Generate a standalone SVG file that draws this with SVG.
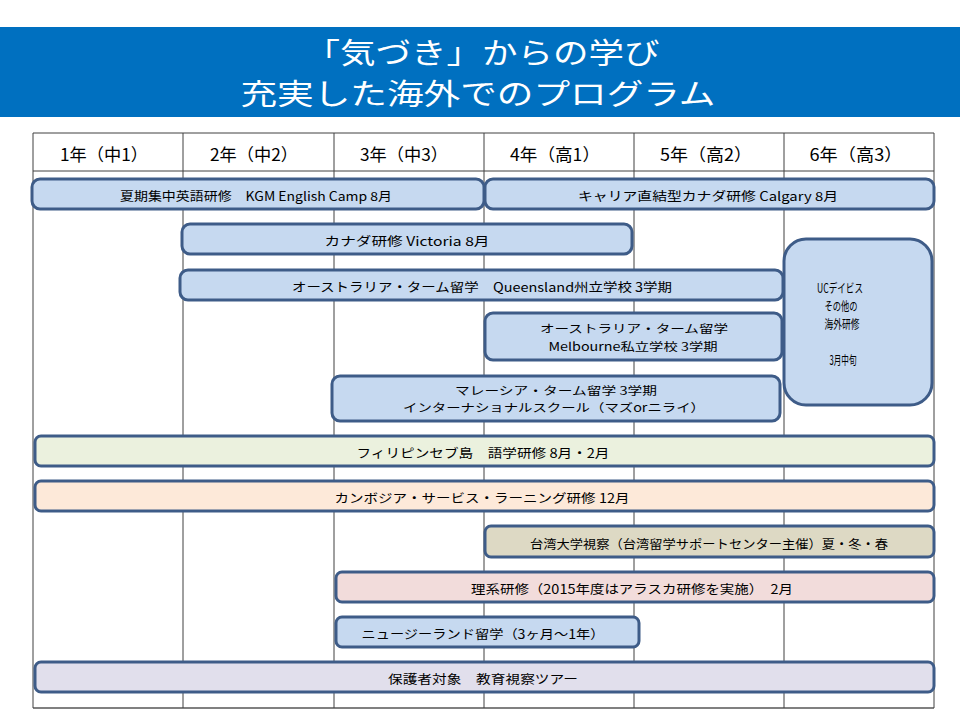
<svg xmlns="http://www.w3.org/2000/svg" width="960" height="720" viewBox="0 0 960 720">
<style>
text{font-family:"Noto Sans CJK JP","Noto Sans",sans-serif;dominant-baseline:central;text-anchor:middle;fill:#000}
.title{fill:#fff;font-size:29px}
.hdr{font-size:17px}
.lbl{font-size:12.5px}
.two{font-size:11.5px}
.uc{font-size:12.5px}
.bar{stroke:#3E5C88;stroke-width:3}
.blue{fill:#C6D9F0}
.green{fill:#EBF1DE}
.peach{fill:#FDE9D9}
.tan{fill:#DDD9C4}
.pink{fill:#F2DCDB}
.lav{fill:#E1DFEC}
.grid{stroke:#404040;stroke-width:1}
</style>
<rect width="960" height="720" fill="#fff"/>
<g id="title">
<rect x="0" y="27" width="960" height="90" fill="#0070C0"/>
<text class="title" x="482" y="51" textLength="355" lengthAdjust="spacingAndGlyphs">「気づき」からの学び</text>
<text class="title" x="478" y="92" textLength="475" lengthAdjust="spacingAndGlyphs">充実した海外でのプログラム</text>
</g>
<g id="grid">
<line class="grid" x1="33" y1="133" x2="934" y2="133"/>
<line class="grid" x1="33" y1="171" x2="934" y2="171"/>
<line x1="33" y1="708" x2="934" y2="708" stroke="#808080" stroke-width="2"/>
<line class="grid" x1="33" y1="133" x2="33" y2="708"/>
<line class="grid" x1="183" y1="133" x2="183" y2="708"/>
<line class="grid" x1="334" y1="133" x2="334" y2="708"/>
<line class="grid" x1="484" y1="133" x2="484" y2="708"/>
<line class="grid" x1="634" y1="133" x2="634" y2="708"/>
<line class="grid" x1="784" y1="133" x2="784" y2="708"/>
<line class="grid" x1="934" y1="133" x2="934" y2="708"/>
<text class="hdr" x="104" y="153" textLength="88" lengthAdjust="spacingAndGlyphs">1年（中1）</text>
<text class="hdr" x="254" y="153" textLength="88" lengthAdjust="spacingAndGlyphs">2年（中2）</text>
<text class="hdr" x="404" y="153" textLength="88" lengthAdjust="spacingAndGlyphs">3年（中3）</text>
<text class="hdr" x="555" y="153" textLength="90" lengthAdjust="spacingAndGlyphs">4年（高1）</text>
<text class="hdr" x="706" y="153" textLength="92" lengthAdjust="spacingAndGlyphs">5年（高2）</text>
<text class="hdr" x="856" y="153" textLength="93" lengthAdjust="spacingAndGlyphs">6年（高3）</text>
</g>
<g id="kgm-camp">
<rect class="bar blue" x="32" y="179" width="452" height="30" rx="8"/>
<text class="lbl" x="256" y="195" textLength="272" lengthAdjust="spacingAndGlyphs">夏期集中英語研修　KGM English Camp 8月</text>
</g>
<g id="calgary">
<rect class="bar blue" x="485" y="179" width="449" height="30" rx="8"/>
<text class="lbl" x="708" y="195" textLength="260" lengthAdjust="spacingAndGlyphs">キャリア直結型カナダ研修 Calgary 8月</text>
</g>
<g id="victoria">
<rect class="bar blue" x="182" y="224" width="450" height="30" rx="8"/>
<text class="lbl" x="407" y="240" textLength="165" lengthAdjust="spacingAndGlyphs">カナダ研修 Victoria 8月</text>
</g>
<g id="queensland">
<rect class="bar blue" x="180" y="270" width="603" height="30" rx="8"/>
<text class="lbl" x="482" y="286" textLength="380" lengthAdjust="spacingAndGlyphs">オーストラリア・ターム留学　Queensland州立学校 3学期</text>
</g>
<g id="uc-davis">
<rect class="bar blue" x="784" y="239" width="148" height="166" rx="22"/>
<text class="uc" x="840" y="287" textLength="46" lengthAdjust="spacingAndGlyphs">UCデイビス</text>
<text class="uc" x="841" y="305" textLength="33" lengthAdjust="spacingAndGlyphs">その他の</text>
<text class="uc" x="842" y="323" textLength="35" lengthAdjust="spacingAndGlyphs">海外研修</text>
<text class="uc" x="843" y="359" textLength="27" lengthAdjust="spacingAndGlyphs">3月中旬</text>
</g>
<g id="melbourne">
<rect class="bar blue" x="485" y="313" width="297" height="47" rx="8"/>
<text class="two" x="634" y="328" textLength="188" lengthAdjust="spacingAndGlyphs">オーストラリア・ターム留学</text>
<text class="two" x="633" y="346" textLength="169" lengthAdjust="spacingAndGlyphs">Melbourne私立学校 3学期</text>
</g>
<g id="malaysia">
<rect class="bar blue" x="332" y="376" width="448" height="45" rx="8"/>
<text class="two" x="556" y="390" textLength="202" lengthAdjust="spacingAndGlyphs">マレーシア・ターム留学 3学期</text>
<text class="two" x="554" y="407" textLength="302" lengthAdjust="spacingAndGlyphs">インターナショナルスクール（マズorニライ）</text>
</g>
<g id="cebu">
<rect class="bar green" x="35" y="436" width="899" height="30" rx="6"/>
<text class="lbl" x="483" y="452" textLength="253" lengthAdjust="spacingAndGlyphs">フィリピンセブ島　語学研修 8月・2月</text>
</g>
<g id="cambodia">
<rect class="bar peach" x="35" y="481" width="899" height="30" rx="6"/>
<text class="lbl" x="482" y="497" textLength="295" lengthAdjust="spacingAndGlyphs">カンボジア・サービス・ラーニング研修 12月</text>
</g>
<g id="taiwan">
<rect class="bar tan" x="485" y="526" width="449" height="31" rx="6"/>
<text class="lbl" x="709" y="543" textLength="358" lengthAdjust="spacingAndGlyphs">台湾大学視察（台湾留学サポートセンター主催）夏・冬・春</text>
</g>
<g id="science">
<rect class="bar pink" x="336" y="572" width="598" height="30" rx="6"/>
<text class="lbl" x="632" y="588" textLength="322" lengthAdjust="spacingAndGlyphs">理系研修（2015年度はアラスカ研修を実施）　2月</text>
</g>
<g id="new-zealand">
<rect class="bar blue" x="336" y="617" width="303" height="30" rx="6"/>
<text class="lbl" x="483" y="633" textLength="243" lengthAdjust="spacingAndGlyphs">ニュージーランド留学（3ヶ月～1年）</text>
</g>
<g id="parents-tour">
<rect class="bar lav" x="35" y="662" width="899" height="30" rx="6"/>
<text class="lbl" x="483" y="678" textLength="190" lengthAdjust="spacingAndGlyphs">保護者対象　教育視察ツアー</text>
</g>
<g id="connectors"/>
</svg>
